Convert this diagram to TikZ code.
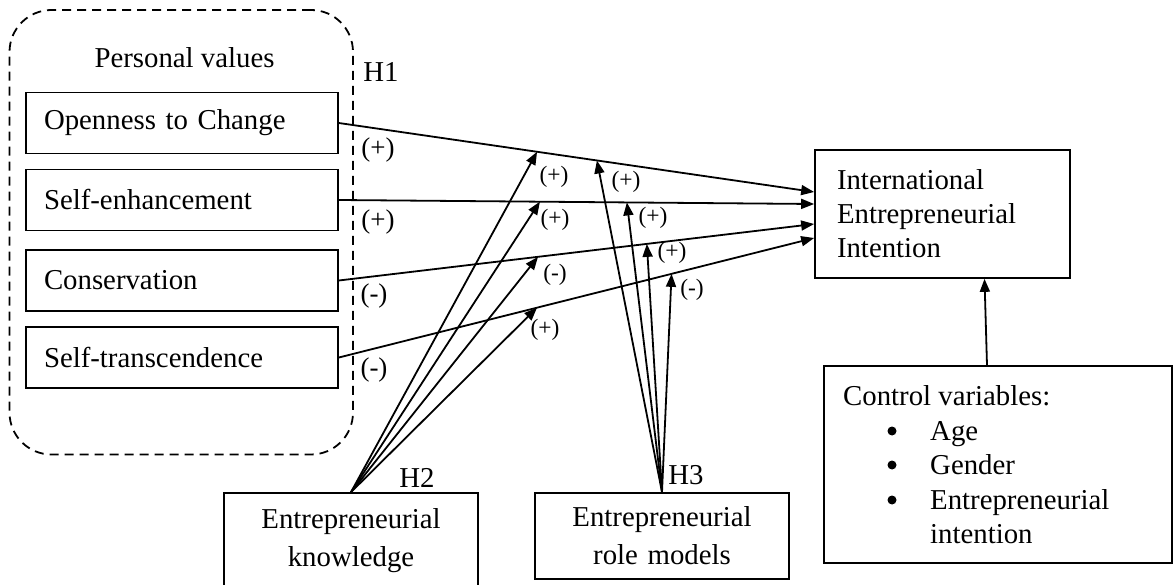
\documentclass[tikz,border=0pt]{standalone}
\usepackage{fontspec}
\setmainfont{Liberation Serif}
\usetikzlibrary{arrows.meta,calc}
\begin{document}
\begin{tikzpicture}[x=1pt,y=-1pt,
  every node/.style={font=\fontsize{28.8}{34}\selectfont},
  boxline/.style={draw, line width=1.7pt},
  valbox/.style={boxline, minimum width=312pt, minimum height=61pt,
    text width=276pt, align=left, inner xsep=18pt, inner ysep=0pt},
  groupbox/.style={draw, line width=1.8pt, dash pattern=on 9pt off 6pt,
    rounded corners=42pt, minimum width=343.5pt, minimum height=444.5pt},
  outbox/.style={boxline, minimum width=255pt, minimum height=128pt,
    text width=211pt, align=left, inner xsep=22pt},
  srcbox/.style={boxline, minimum width=254pt, text width=240pt, align=center,
    inner xsep=7pt, font=\fontsize{28.8}{38}\selectfont},
  arr/.style={line width=1.8pt, -{Triangle[length=13pt,width=10pt]}},
  dot/.style={circle, fill, inner sep=0pt, minimum size=9pt},
  hyp/.style={inner sep=0pt},
  signA/.style={inner sep=0pt, font=\fontsize{27}{30}\selectfont},
  signB/.style={inner sep=0pt, font=\fontsize{23.5}{26}\selectfont},
  plain/.style={inner sep=0pt, anchor=base west}
]
\useasboundingbox (0,0) rectangle (1173,585);

% personal values group
\node[groupbox] (pv) at (181.25,232.25) {};
\node[hyp] (pvtitle) at (184.5,58) {Personal values};
\node[valbox] (oc) at (182,123) {Openness to Change};
\node[valbox] (se) at (182,200) {Self-enhancement};
\node[valbox] (co) at (182,280.5) {Conservation};
\node[valbox] (st) at (182,357.5) {Self-transcendence};

% outcome
\node[outbox] (iei) at (942.5,214) {International\\Entrepreneurial\\Intention};

% moderators
\node[srcbox, minimum height=96pt] (ek) at (351,541) {Entrepreneurial\\knowledge};
\node[srcbox, minimum height=86pt] (erm) at (662,536) {Entrepreneurial\\role models};

% control variables
\node[boxline, minimum width=348pt, minimum height=197pt] (ctl) at (998,464.5) {};
\node[plain] (ctltitle) at (843,405) {Control variables:};
\node[dot] (b1) at (892,431) {};
\node[dot] (b2) at (892,465) {};
\node[dot] (b3) at (892,500) {};
\node[plain] (cv1) at (930,440) {Age};
\node[plain] (cv2) at (930,474) {Gender};
\node[plain] (cv3) at (930,509) {Entrepreneurial};
\node[plain] (cv3b) at (930,543) {intention};

% arrow ends on the outcome box
\path (iei.west) ++(0,-22) coordinate (t1);
\path (iei.west) ++(0,-10) coordinate (t2);
\path (iei.west) ++(0,10) coordinate (t3);
\path (iei.west) ++(0,24) coordinate (t4);

% H1 direct effects
\draw[arr] (oc.east) -- (t1);
\draw[arr] (se.east) -- (t2);
\draw[arr] (co.east) -- (t3);
\draw[arr] (st.east) -- (t4);

% H2 moderation by knowledge
\coordinate (k1) at ($(oc.east)!0.417!(t1)$);
\coordinate (k2) at ($(se.east)!0.423!(t2)$);
\coordinate (k3) at ($(co.east)!0.419!(t3)$);
\coordinate (k4) at ($(st.east)!0.417!(t4)$);
\draw[arr] (ek.north) -- (k1);
\draw[arr] (ek.north) -- (k2);
\draw[arr] (ek.north) -- (k3);
\draw[arr] (ek.north) -- (k4);

% H3 moderation by role models
\coordinate (r1) at ($(oc.east)!0.543!(t1)$);
\coordinate (r2) at ($(se.east)!0.606!(t2)$);
\coordinate (r3) at ($(co.east)!0.648!(t3)$);
\coordinate (r4) at ($(st.east)!0.700!(t4)$);
\draw[arr] (erm.north) -- (r1);
\draw[arr] (erm.north) -- (r2);
\draw[arr] (erm.north) -- (r3);
\draw[arr] (erm.north) -- (r4);

% control variables
\coordinate (cs) at ($(ctl.north)+(-11,0)$);
\coordinate (ce) at ($(iei.south)+(42,0)$);
\draw[arr] (cs) -- (ce);

% hypothesis labels
\node[hyp] (h1) at (381,72) {H1};
\node[hyp] (h2) at (417,478) {H2};
\node[hyp] (h3) at (686,475) {H3};

% expected signs
\node[signA] (s11) at (378,150) {(+)};
\node[signA] (s12) at (378,222) {(+)};
\node[signA] (s13) at (374,296) {(-)};
\node[signA] (s14) at (374,370) {(-)};
\node[signB] (s21) at (554,177) {(+)};
\node[signB] (s22) at (555,220) {(+)};
\node[signB] (s23) at (555,275) {(-)};
\node[signB] (s24) at (545,330) {(+)};
\node[signB] (s31) at (626,182) {(+)};
\node[signB] (s32) at (653,218) {(+)};
\node[signB] (s33) at (672,253) {(+)};
\node[signB] (s34) at (692,290) {(-)};
\end{tikzpicture}
\end{document}
